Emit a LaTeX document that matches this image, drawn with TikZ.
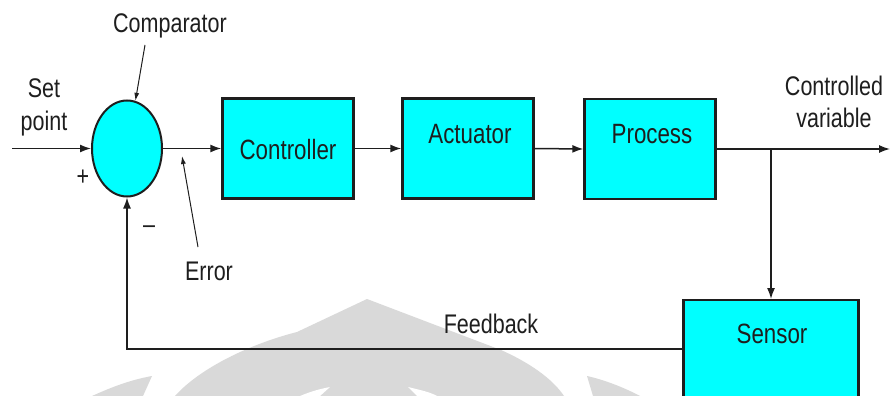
\documentclass[tikz,border=0pt]{standalone}
\usepackage{fontspec}
\setmainfont{Liberation Sans}[FakeStretch=0.80]
\usetikzlibrary{shapes.geometric,arrows.meta}
\definecolor{boxfill}{HTML}{00FFFF}
\definecolor{markgrey}{HTML}{D9D9D9}
\definecolor{inkgrey}{HTML}{1E1E1E}
\begin{document}
\begin{tikzpicture}[x=1pt,y=-1pt,
  blockbox/.style={draw=inkgrey, line width=2.4pt, fill=boxfill,
    minimum width=131pt, minimum height=100pt, inner sep=0pt},
  wire/.style={draw=inkgrey, line width=1.5pt, -{Latex[length=11pt,width=8pt]}},
  pointer/.style={draw=inkgrey, line width=1pt, -{Latex[length=8pt,width=5pt]}},
  lbl/.style={font=\fontsize{26.9}{30}\selectfont, anchor=base, inner sep=0pt, text=inkgrey},
  boxlbl/.style={lbl, font=\fontsize{27.9}{30}\selectfont}]
\clip (0,0) rectangle (891,396);
\fill[white] (0,0) rectangle (891,396);

% faint emblem in the background
\fill[markgrey] (175,396) .. controls (200,368) and (250,344) .. (297,332)
  -- (367,299) -- (501,350) .. controls (528,362) and (552,378) .. (564,396) -- cycle;
\fill[white] (300,396) .. controls (312,391) and (320,389) .. (330,387) -- (320,396) -- cycle;
\fill[white] (408,387) .. controls (420,390) and (430,392) .. (437,396) -- (417,396) -- cycle;
\fill[markgrey] (152,376) -- (143,396) -- (92,396) .. controls (112,387) and (130,380) .. (152,376) -- cycle;
\fill[markgrey] (587,376) -- (593,396) -- (640,396) .. controls (625,388) and (605,380) .. (587,376) -- cycle;

% comparator and blocks
\node[ellipse, draw=inkgrey, line width=2pt, fill=boxfill, minimum width=70pt,
  minimum height=96pt, inner sep=0pt] (cmp) at (127,148.5) {};
\node[blockbox] (ctl) at (288,148.5) {};
\node[blockbox] (act) at (468,148.5) {};
\node[blockbox] (proc) at (650,149) {};
\node[blockbox, minimum width=175pt, minimum height=140pt, anchor=north] (sen) at (771,299) {};

% block labels
\node[boxlbl] (ctlT) at (288,159) {Controller};
\node[boxlbl] (actT) at (470,143) {Actuator};
\node[boxlbl] (procT) at (652,143) {Process};
\node[boxlbl] (senT) at (772,343) {Sensor};

% annotations
\node[lbl] (setA) at (44,97) {Set};
\node[lbl] (setB) at (44,130) {point};
\node[lbl] (cmpT) at (170,33) {Comparator};
\node[lbl] (errT) at (209,280) {Error};
\node[lbl] (fbT) at (491,333) {Feedback};
\node[lbl] (cvA) at (834,95) {Controlled};
\node[lbl] (cvB) at (834,127) {variable};
\node[lbl, anchor=center] (plus) at (83,178) {+};
\node[lbl, anchor=center] (minus) at (149,230) {–};

% signal path
\coordinate (sp) at (12,148.5);
\coordinate (out) at (890,149);
\coordinate (jn) at (771,149);
\coordinate (fbL) at (127,349);
\draw[wire] (sp) -- (cmp.west);
\draw[wire] (cmp.east) -- (ctl.west);
\draw[wire] (ctl.east) -- (act.west);
\draw[wire] (act.east) -- (proc.west);
\draw[wire] (proc.east |- out) -- (out);
\draw[wire] (jn) -- (sen.north);
\draw[wire] (sen.west |- fbL) -- (fbL) -- (cmp.south);

% label pointers
\coordinate (cmpTail) at (145,45);
\coordinate (errTail) at (198,247);
\coordinate (errTip) at (182,156);
\draw[pointer] (cmpTail) -- (cmp.80);
\draw[pointer] (errTail) -- (errTip);
\end{tikzpicture}
\end{document}
